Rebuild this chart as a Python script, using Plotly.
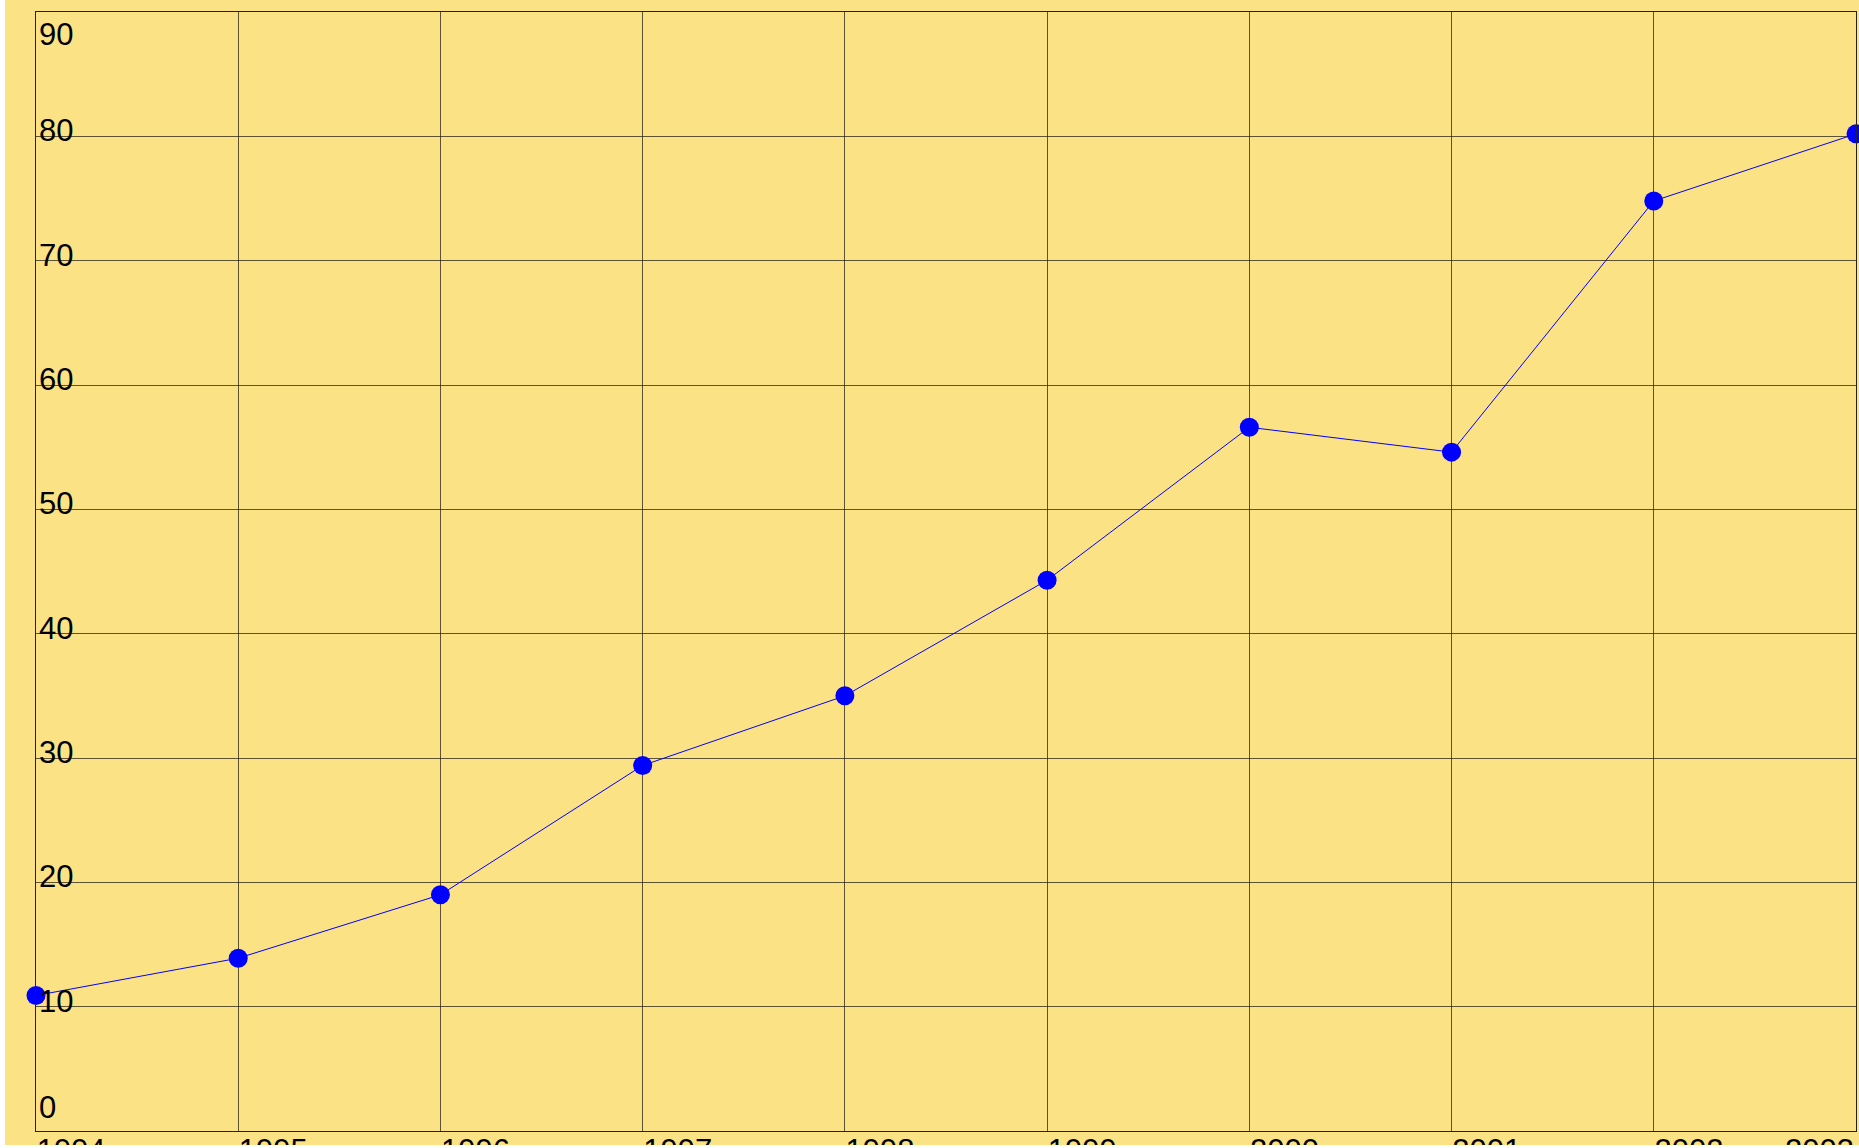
import plotly.graph_objects as go

years = [1994, 1995, 1996, 1997, 1998, 1999, 2000, 2001, 2002, 2003]
values = [10.9, 13.9, 19.0, 29.4, 35.0, 44.3, 56.6, 54.6, 74.8, 80.2]
y_ticks = [0, 10, 20, 30, 40, 50, 60, 70, 80, 90]
x_ticks = years

BG = "#FBE385"
GRID = "rgba(40,35,20,0.75)"
FONT = "Liberation Sans, Arial, sans-serif"
FS = 31

fig = go.Figure()
fig.add_trace(go.Scatter(
    x=years, y=values, mode="lines+markers",
    line=dict(color="#0000FF", width=1),
    marker=dict(color="#0000FF", size=19),
    cliponaxis=False, showlegend=False,
))

# y tick labels: inner ones via axis, edge ones (0 and 90) nudged inside
y_text = [("" if v in (y_ticks[0], y_ticks[-1]) else str(v)) for v in y_ticks]
x_text = [("" if v == x_ticks[-1] else str(v)) for v in x_ticks]
annotations = []
for v, shift in ((y_ticks[0], 24), (y_ticks[-1], -22)):
    annotations.append(dict(
        x=0, xref="paper", y=v, yref="y", text=str(v), showarrow=False,
        xanchor="left", yanchor="middle", xshift=1, yshift=shift,
        font=dict(family=FONT, size=FS, color="black"),
    ))
# last x label nudged inside the right edge
annotations.append(dict(
    x=x_ticks[-1], xref="x", y=0, yref="paper", text=str(x_ticks[-1]),
    showarrow=False, xanchor="right", yanchor="top", xshift=0, yshift=0,
    font=dict(family=FONT, size=FS, color="black"),
))

fig.update_layout(
    width=1854, height=1145,
    margin=dict(l=31, r=3, t=12, b=14),
    paper_bgcolor=BG, plot_bgcolor=BG,
    font=dict(family=FONT, size=FS, color="black"),
    annotations=annotations,
)
fig.update_xaxes(
    range=[years[0], years[-1]], tickvals=x_ticks, ticktext=x_text,
    ticklabelposition="outside right", ticks="", automargin=False,
    ticklabelstandoff=-8,
    showgrid=True, gridcolor=GRID, gridwidth=1, zeroline=False,
    showline=True, linecolor="#222", linewidth=1.3, mirror=True,
    tickfont=dict(family=FONT, size=FS, color="black"),
)
fig.update_yaxes(
    range=[y_ticks[0], y_ticks[-1]], tickvals=y_ticks, ticktext=y_text,
    ticklabelposition="inside", ticks="", automargin=False,
    ticklabeloverflow="allow", ticklabelstandoff=6, ticklabelshift=-6,
    showgrid=True, gridcolor=GRID, gridwidth=1, zeroline=False,
    showline=True, linecolor="#222", linewidth=1.3, mirror=True,
    tickfont=dict(family=FONT, size=FS, color="black"),
)

fig.write_html("out.html", config={"displayModeBar": False},
               post_script="document.body.style.margin='0 0 0 5px';")
